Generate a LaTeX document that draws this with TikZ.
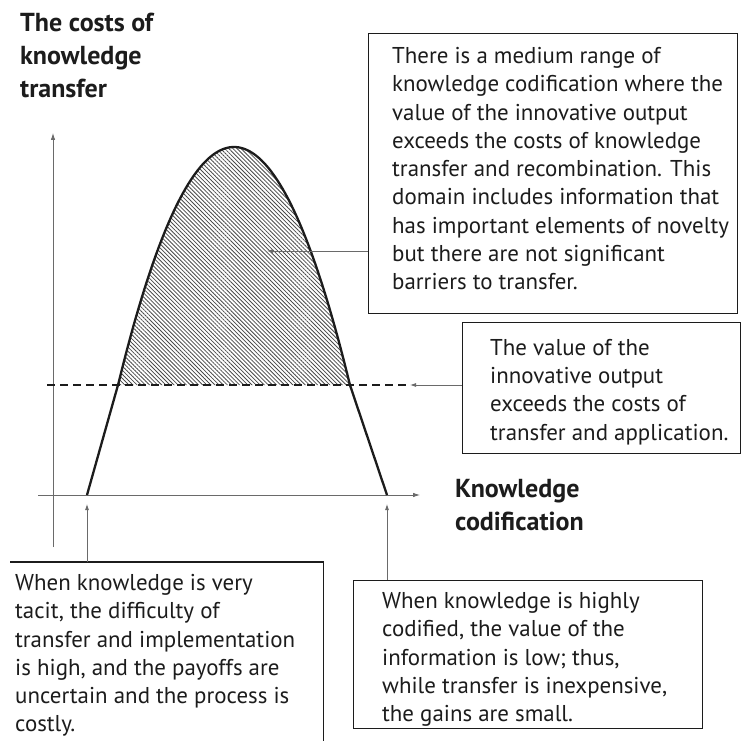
\documentclass[tikz,border=0pt]{standalone}
\usepackage{fontspec}
\setmainfont{PT Sans}
\usetikzlibrary{arrows.meta, positioning, patterns.meta}
\definecolor{inkgray}{HTML}{1c1c1c}
\definecolor{axisgray}{HTML}{6a6a6a}
\definecolor{hatchgray}{HTML}{4a4a4a}
\tikzset{
  notebox/.style={draw=inkgray, line width=1.3pt, anchor=north west, inner sep=0pt},
  notetext/.style={align=left, anchor=north west, inner sep=0pt, text=inkgray,
    font=\fontsize{22.9}{28.3}\selectfont},
  axislabel/.style={align=left, anchor=north west, inner sep=0pt, text=inkgray,
    font=\fontsize{26}{33}\selectfont\bfseries},
  axisline/.style={draw=axisgray, line width=0.8pt, -{Latex[length=7pt,width=4.5pt]}},
  pointer/.style={draw=axisgray, line width=0.8pt, -{Latex[length=6pt,width=4pt]}},
  threshold/.style={draw=inkgray, line width=1.3pt, dash pattern=on 8pt off 5pt},
  curveline/.style={draw=inkgray, line width=2.3pt, line join=round},
  hatch/.style={pattern={Lines[angle=-45, distance=2.9pt, line width=0.8pt]}, pattern color=hatchgray}
}
\begin{document}
\begin{tikzpicture}[x=1pt, y=1pt]
\useasboundingbox (0,0) rectangle (741,740);
\clip (0,0) rectangle (741,740);
\fill[white] (0,0) rectangle (741,740);

% axes
\coordinate (ybottom) at (53,193);
\coordinate (ytop) at (53,607);
\coordinate (xleft) at (38,245);
\coordinate (xright) at (420,245);
\draw[axisline] (ybottom) -- (ytop);
\draw[axisline] (xleft) -- (xright);

\node[axislabel] (costlabel) at (20,727) {The costs of\\knowledge\\transfer};
\node[axislabel] (codlabel) at (455,261) {Knowledge\\codification};

% curve and hatched domain
\coordinate (lfoot) at (87,245);
\coordinate (rfoot) at (387,245);
\coordinate (dashstart) at (47,355);
\coordinate (dashpoint) at (410,355);
\coordinate (hatchpoint) at (267,489);
\fill[hatch] (118,355) -- plot[domain=118:350, samples=60] (\x, {593-(\x-234)^2/56.5}) -- cycle;
\draw[threshold] (dashstart) -- (dashpoint);
\draw[curveline] (lfoot) -- (118,355) -- plot[domain=118:350, samples=80] (\x, {593-(\x-234)^2/56.5}) -- (rfoot);

% boxes
\node[notebox, minimum width=369, minimum height=280] (rangebox) at (368,707) {};
\node[notetext] (rangetext) at ([shift={(24,-14)}]rangebox.north west)
  {There is a medium range of\\
   knowledge codification where the\\
   value of the innovative output\\
   exceeds the costs of knowledge\\
   transfer and recombination. This\\
   domain includes information that\\
   has important elements of novelty\\
   but there are not significant\\
   barriers to transfer.};

\node[notebox, minimum width=278, minimum height=131] (valuebox) at (462,418) {};
\node[notetext] (valuetext) at ([shift={(28,-17)}]valuebox.north west)
  {The value of the\\
   innovative output\\
   exceeds the costs of\\
   transfer and application.};

\node[notebox, draw=none, minimum width=312, minimum height=200] (tacitbox) at (10,178) {};
\draw[inkgray, line width=1.3pt] (tacitbox.north west) -- (tacitbox.north east) -- (tacitbox.south east);
\node[notetext] (tacittext) at ([shift={(5,-12)}]tacitbox.north west)
  {When knowledge is very\\
   tacit, the difficulty of\\
   transfer and implementation\\
   is high, and the payoffs are\\
   uncertain and the process is\\
   costly.};

\node[notebox, minimum width=349, minimum height=148] (codifiedbox) at (353,160) {};
\node[notetext] (codifiedtext) at ([shift={(29,-12)}]codifiedbox.north west)
  {When knowledge is highly\\
   codified, the value of the\\
   information is low; thus,\\
   while transfer is inexpensive,\\
   the gains are small.};

% pointers
\draw[pointer] (rangebox.west |- hatchpoint) -- (hatchpoint);
\draw[pointer] (valuebox.west |- dashpoint) -- (dashpoint);
\draw[pointer] (tacitbox.north -| lfoot) -- ([yshift=-9]lfoot);
\draw[pointer] (codifiedbox.north -| rfoot) -- ([yshift=-9]rfoot);
\end{tikzpicture}
\end{document}
